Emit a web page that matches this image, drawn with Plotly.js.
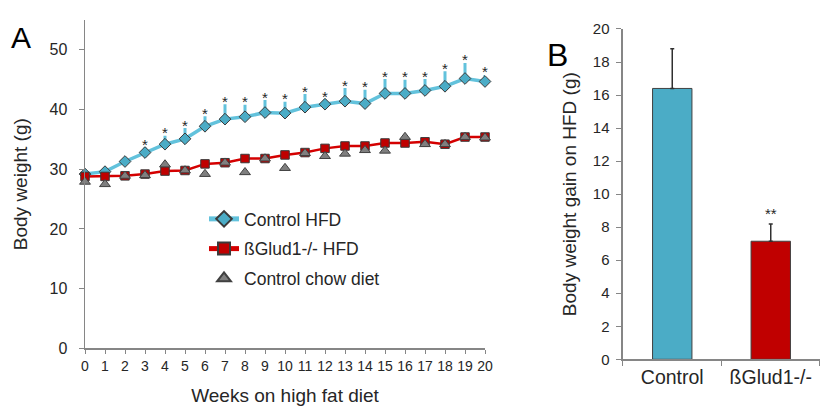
<!DOCTYPE html>
<html><head><meta charset="utf-8">
<script src="https://cdn.plot.ly/plotly-3.0.1.min.js"></script>
<style>html,body{margin:0;padding:0;background:#fff}#chart{width:830px;height:410px}</style>
</head><body><div id="chart"></div><script>
// Panel A data
const weeks = [0,1,2,3,4,5,6,7,8,9,10,11,12,13,14,15,16,17,18,19,20];
const controlHFD = [29.2,29.6,31.3,32.8,34.2,35.1,37.2,38.4,38.8,39.5,39.4,40.4,40.9,41.4,41.0,42.7,42.7,43.2,43.9,45.2,44.7];
const controlHFDErr = [0,0,0,0.9,1.4,1.8,1.7,2.5,2.0,2.1,1.9,2.2,0.8,2.2,2.3,2.4,2.3,1.9,2.5,2.6,1.1];
const glud1HFD = [28.8,28.8,28.9,29.2,29.7,29.8,30.9,31.1,31.8,31.8,32.4,32.8,33.5,33.9,33.9,34.4,34.4,34.6,34.2,35.4,35.4];
const controlChow = [27.9,27.5,28.9,29.0,30.8,29.8,29.2,31.1,29.5,31.8,30.2,32.7,32.2,32.6,33.2,33.1,35.4,34.2,34.2,35.4,35.3];
const sigA = ['','','','*','*','*','*','*','*','*','*','*','*','*','*','*','*','*','*','*','*'];
const seriesNames = ['Control HFD','ßGlud1-/- HFD','Control chow diet'];
// Panel B data
const groups = ['Control','ßGlud1-/-'];
const gain = [16.4,7.15];
const gainErr = [2.4,1.05];
const sigB = ['','**'];

const txt = '#262626';
const axisCol = '#868686';
const font = 'Liberation Sans, Arial, sans-serif';
const zeros = weeks.map(() => 0);

const traces = [
  {x: weeks, y: controlHFD, name: seriesNames[0], type: 'scatter', mode: 'lines+markers',
   line: {color: '#62C2DC', width: 3.5},
   marker: {symbol: 'diamond', size: 9, color: '#4BACC6', line: {color: '#3A3A3A', width: 1}},
   error_y: {type: 'data', array: controlHFDErr, arrayminus: zeros, symmetric: false, color: '#62C2DC', thickness: 3, width: 0},
   cliponaxis: false, xaxis: 'x', yaxis: 'y', legendgroup: 'a'},
  {x: weeks, y: glud1HFD, name: seriesNames[1], type: 'scatter', mode: 'lines+markers',
   line: {color: '#D40000', width: 2.5},
   marker: {symbol: 'square', size: 8.5, color: '#C00000', line: {color: '#3A3A3A', width: 1}},
   cliponaxis: false, xaxis: 'x', yaxis: 'y', legendgroup: 'b'},
  {x: weeks, y: controlChow, name: seriesNames[2], type: 'scatter', mode: 'markers',
   marker: {symbol: 'triangle-up', size: 9.5, color: '#7F7F7F', line: {color: '#404040', width: 1}},
   cliponaxis: false, xaxis: 'x', yaxis: 'y', legendgroup: 'c'},
  {x: groups, y: gain, type: 'bar', width: 0.4, showlegend: false,
   marker: {color: ['#4BACC6', '#C00000'], line: {color: '#404040', width: 1}},
   error_y: {type: 'data', array: gainErr, arrayminus: [0, 0], symmetric: false, color: '#303030', thickness: 1.5, width: 2},
   xaxis: 'x2', yaxis: 'y2'}
];

const starAnnA = weeks.map((w, i) => ({
  text: sigA[i], x: w, y: controlHFD[i] + controlHFDErr[i], xref: 'x', yref: 'y',
  xanchor: 'center', yanchor: 'middle', yshift: 3, showarrow: false,
  font: {family: font, size: 15, color: txt}
})).filter(a => a.text);
const starAnnB = groups.map((g, i) => ({
  text: sigB[i], x: g, y: gain[i] + gainErr[i], xref: 'x2', yref: 'y2',
  xanchor: 'center', yanchor: 'middle', yshift: 10, showarrow: false,
  font: {family: font, size: 15, color: txt}
})).filter(a => a.text);

const layout = {
  width: 830, height: 410,
  margin: {l: 0, r: 0, t: 0, b: 0},
  paper_bgcolor: '#fff', plot_bgcolor: '#fff',
  font: {family: font, color: txt},
  showlegend: true,
  legend: {x: 0.2458, y: 0.5098, xanchor: 'left', yanchor: 'top', bgcolor: 'rgba(0,0,0,0)',
           font: {family: font, size: 17.5, color: txt}, itemsizing: 'constant',
           traceorder: 'grouped', tracegroupgap: 4},
  xaxis: {domain: [0.10241, 0.58434], range: [0, 20], tickmode: 'linear', tick0: 0, dtick: 1,
          showgrid: false, zeroline: false, showline: true, linecolor: axisCol, linewidth: 1.5,
          ticks: 'outside', ticklen: 4, tickcolor: axisCol, tickwidth: 1,
          tickfont: {family: font, size: 14, color: txt}, automargin: false,
          title: {text: 'Weeks on high fat diet', font: {family: font, size: 19, color: txt}, standoff: 16}},
  yaxis: {domain: [0.15024, 0.95122], range: [0, 55], tickmode: 'array', tickvals: [0,10,20,30,40,50],
          showgrid: false, zeroline: false, showline: true, linecolor: axisCol, linewidth: 1.5,
          ticks: 'outside', ticklen: 5, tickcolor: axisCol, tickwidth: 1,
          tickfont: {family: font, size: 16, color: txt}, automargin: false, ticklabelstandoff: 8,
          title: {text: 'Body weight (g)', font: {family: font, size: 19, color: txt}, standoff: 17}},
  xaxis2: {domain: [0.75060, 0.98795], type: 'category', range: [-0.5, 1.5],
           showgrid: false, zeroline: false, showline: true, linecolor: axisCol, linewidth: 1.5,
           ticks: 'outside', ticklen: 5, tickcolor: axisCol, tickwidth: 1, tickson: 'boundaries',
           tickfont: {family: font, size: 19.5, color: txt}, automargin: false, anchor: 'y2'},
  yaxis2: {domain: [0.12366, 0.92927], range: [0, 20], dtick: 2, anchor: 'x2',
           showgrid: false, zeroline: false, showline: true, linecolor: axisCol, linewidth: 1.5,
           ticks: 'outside', ticklen: 5, tickcolor: axisCol, tickwidth: 1,
           tickfont: {family: font, size: 15, color: txt}, automargin: false, ticklabelstandoff: 4,
           title: {text: 'Body weight gain on HFD (g)', font: {family: font, size: 19, color: txt}, standoff: 11}},
  annotations: [
    {text: 'A', xref: 'paper', yref: 'paper', x: 21/830, y: (410-38)/410, xanchor: 'center', yanchor: 'middle',
     showarrow: false, font: {family: font, size: 30, color: '#000'}},
    {text: 'B', xref: 'paper', yref: 'paper', x: 557/830, y: (410-55)/410, xanchor: 'center', yanchor: 'middle',
     showarrow: false, font: {family: font, size: 32, color: '#000'}}
  ].concat(starAnnA, starAnnB)
};

Plotly.newPlot('chart', traces, layout, {staticPlot: true, displayModeBar: false});
</script></body></html>
